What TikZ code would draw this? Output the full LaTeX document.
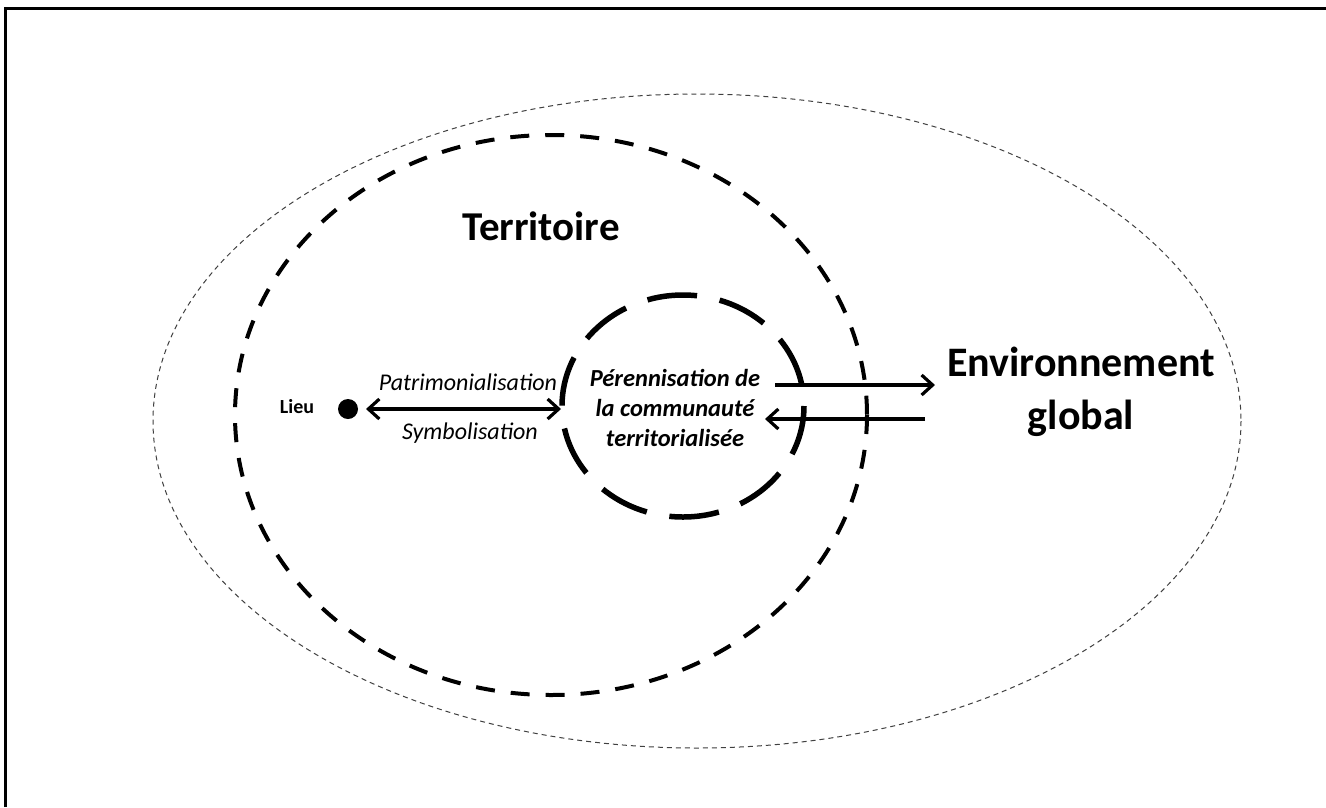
\documentclass[tikz,border=0pt]{standalone}
\usepackage{fontspec}
\setmainfont{Carlito}
\usetikzlibrary{arrows.meta}
\begin{document}
\begin{tikzpicture}[x=1pt,y=-1pt,
  outerell/.style={draw=black!75,line width=1pt,dash pattern=on 5pt off 4pt},
  midell/.style={draw=black,line width=4pt,dash pattern=on 19pt off 16pt},
  innerell/.style={draw=black,line width=5.5pt,dash pattern=on 50pt off 23pt},
  arr/.style={line width=3.8pt,-{Straight Barb[length=11pt,width=20pt,line width=3.2pt]}},
  darr/.style={line width=3.8pt,{Straight Barb[length=11pt,width=20pt,line width=3.2pt]}-{Straight Barb[length=11pt,width=20pt,line width=3.2pt]}},
  lbl/.style={inner sep=0pt,align=center}]
\useasboundingbox (0,0) rectangle (1326,807);
\fill[white] (0,0) rectangle (1326,807);
% frame (top and left edges visible)
\draw[line width=3pt] (5.5,807) -- (5.5,8.5) -- (1326,8.5);
% ellipses
\draw[outerell] (697,421) ellipse [x radius=544, y radius=327];
\draw[midell] (551,415) ellipse [x radius=316, y radius=280];
\draw[innerell] (683,406) ellipse [x radius=121, y radius=111];
% nodes
\node[lbl,font=\bfseries\fontsize{41}{48}\selectfont] (terr) at (541,226) {Territoire};
\node[lbl,font=\bfseries\fontsize{42}{53}\selectfont] (env) at (1081,392) {Environnement\\global};
\node[lbl,font=\bfseries\itshape\fontsize{24.5}{30}\selectfont] (per) at (675,408) {Pérennisation de\\la communauté\\territorialisée};
\fill (348,409) circle [radius=10];
\coordinate (dot) at (348,409);
\node[lbl,font=\bfseries\fontsize{20}{22}\selectfont] (lieu) at (297,407) {Lieu};
\coordinate (lieuR) at (366,409);
\coordinate (innerL) at (561,409);
\draw[darr] (lieuR) -- (innerL);
\node[lbl,font=\itshape\fontsize{24}{28}\selectfont] (patr) at (468,382) {Patrimonialisation};
\node[lbl,font=\itshape\fontsize{24}{28}\selectfont] (symb) at (470,433) {Symbolisation};
\coordinate (outA) at (775,385);
\coordinate (outB) at (935,385);
\coordinate (inA) at (925,419);
\coordinate (inB) at (765,419);
\draw[arr] (outA) -- (outB);
\draw[arr] (inA) -- (inB);
\end{tikzpicture}
\end{document}
